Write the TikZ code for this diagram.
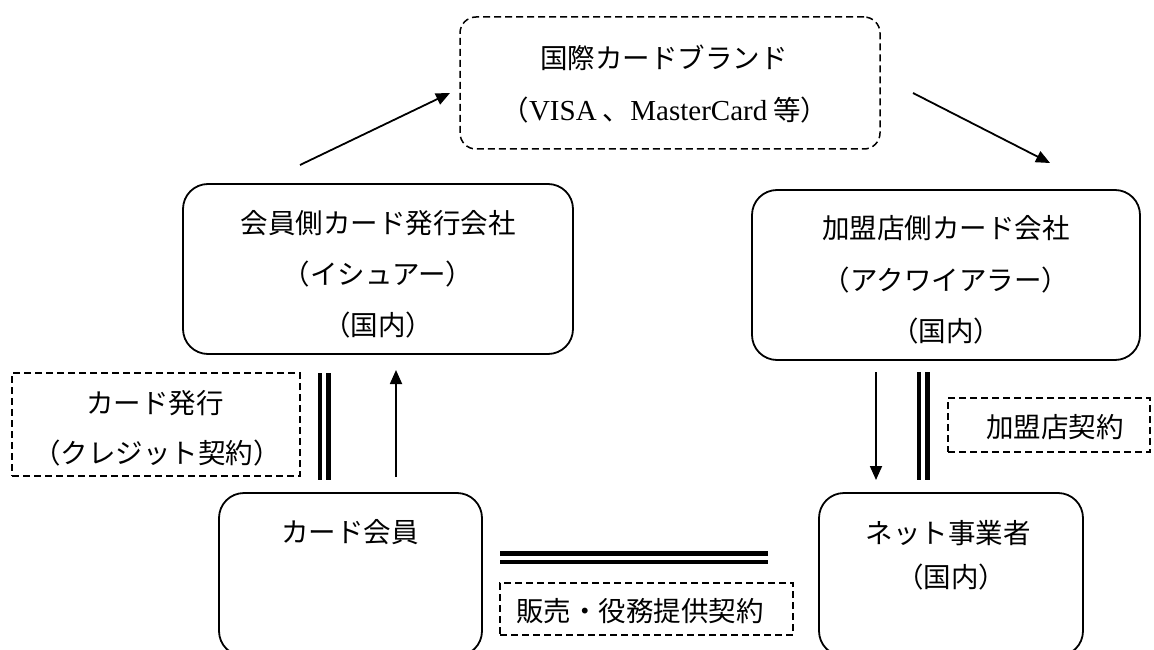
\documentclass[tikz,border=0pt]{standalone}
\usepackage{fontspec}
\setmainfont{Liberation Serif}
\newfontfamily\jp{Noto Sans CJK JP}
\usetikzlibrary{arrows.meta}
\tikzset{
  solidbox/.style={draw, line width=1.8pt, rounded corners=25pt, inner sep=0pt},
  dashbox/.style={draw, line width=1.5pt, dash pattern=on 7pt off 4pt, inner sep=0pt},
  txt/.style={font=\jp\fontsize{27.5}{32}\selectfont, inner sep=0pt, text=black},
  arr/.style={line width=1.8pt, -{Triangle[length=14pt,width=12pt]}},
  dbl/.style={line width=4.5pt, double distance=4pt, double=white},
}
\begin{document}
\begin{tikzpicture}[x=1pt,y=-1pt]
\useasboundingbox (0,0) rectangle (1154,650);
\clip (0,0) rectangle (1154,650);
% boxes
\node[solidbox, dash pattern=on 7pt off 4pt, line width=1.5pt, rounded corners=16pt, minimum width=420pt, minimum height=132pt] (top) at (670,83) {};
\node[solidbox, minimum width=390pt, minimum height=170pt] (lbox) at (378,269) {};
\node[solidbox, minimum width=388pt, minimum height=170pt] (rbox) at (946,275) {};
\node[solidbox, minimum width=263pt, minimum height=163pt] (member) at (350.5,574.5) {};
\node[solidbox, minimum width=264pt, minimum height=163pt] (net) at (951,574.5) {};
\node[dashbox, minimum width=288pt, minimum height=103pt] (dA) at (156,424.5) {};
\node[dashbox, minimum width=202pt, minimum height=54pt] (dB) at (1049,425) {};
\node[dashbox, minimum width=293pt, minimum height=52pt] (dC) at (646.5,609) {};
% texts
\node[txt] (t1) at (664,58) {国際カードブランド};
\node[txt] (t2) at (665,110) {（{\rmfamily\fontsize{29}{32}\selectfont VISA} 、{\rmfamily\fontsize{29}{32}\selectfont MasterCard} 等）};
\node[txt] (l1) at (378,223) {会員側カード発行会社};
\node[txt] (l2) at (378,274) {（イシュアー）};
\node[txt] (l3) at (378,325) {（国内）};
\node[txt] (r1) at (946,228) {加盟店側カード会社};
\node[txt] (r2) at (946,280) {（アクワイアラー）};
\node[txt] (r3) at (946,331) {（国内）};
\node[txt] (m1) at (350,532) {カード会員};
\node[txt] (n1) at (948,533) {ネット事業者};
\node[txt] (n2) at (951,577) {（国内）};
\node[txt] (a1) at (155,403) {カード発行};
\node[txt] (a2) at (157,453) {（クレジット契約）};
\node[txt] (b1) at (1055,427) {加盟店契約};
\node[txt] (c1) at (640,611) {販売・役務提供契約};
% connector end points
\coordinate (p1s) at (300,165);
\coordinate (p1e) at (450,93);
\coordinate (p2s) at (913,93);
\coordinate (p2e) at (1050,163);
\coordinate (up1) at (396,477);
\coordinate (up2) at (396,370);
\coordinate (dn1) at (876,372);
\coordinate (dn2) at (876,480);
\coordinate (dl1) at (324,373);
\coordinate (dl2) at (324,480);
\coordinate (dr1) at (923,372);
\coordinate (dr2) at (923,480);
\coordinate (dh1) at (500,557.5);
\coordinate (dh2) at (768,557.5);
% connectors
\draw[arr] (p1s) -- (p1e);
\draw[arr] (p2s) -- (p2e);
\draw[arr] (up1) -- (up2);
\draw[arr] (dn1) -- (dn2);
\draw[dbl] (dl1) -- (dl2);
\draw[dbl] (dr1) -- (dr2);
\draw[dbl] (dh1) -- (dh2);
\end{tikzpicture}
\end{document}
